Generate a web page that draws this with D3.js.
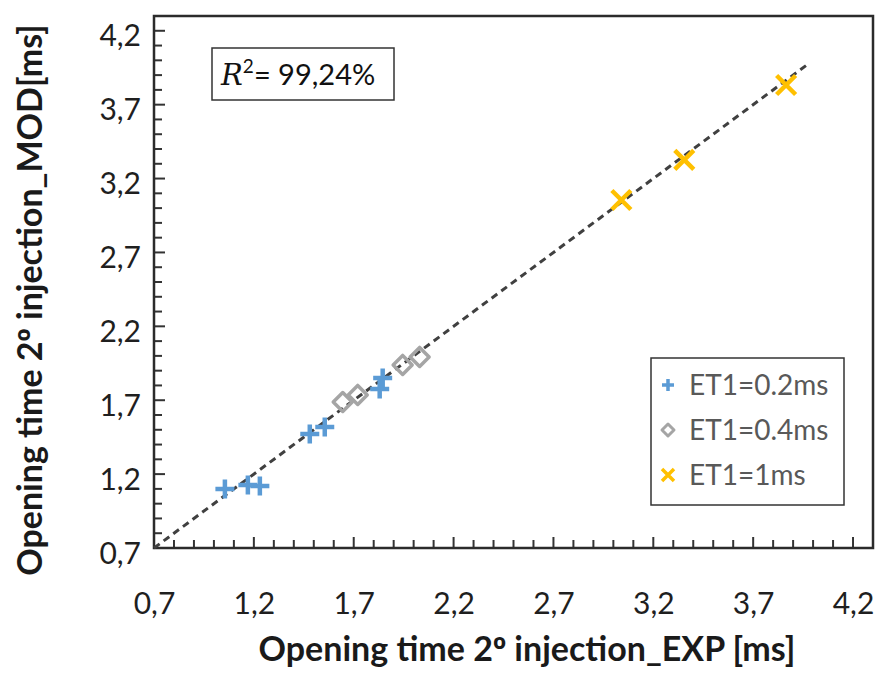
<!DOCTYPE html>
<html><head><meta charset="utf-8">
<script src="https://cdn.jsdelivr.net/npm/d3@7"></script>
<style>body{margin:0;background:#fff}svg{display:block}</style>
</head><body>
<script>
// Data
const s02x = [1.055, 1.17, 1.23, 1.48, 1.555, 1.83, 1.845];
const s02y = [1.100, 1.127, 1.12, 1.472, 1.519, 1.776, 1.851];
const s04x = [1.645, 1.72, 1.945, 2.03];
const s04y = [1.688, 1.736, 1.939, 1.993];
const s1x = [3.04, 3.355, 3.865];
const s1y = [3.055, 3.326, 3.833];
const seriesNames = ["ET1=0.2ms", "ET1=0.4ms", "ET1=1ms"];
const tickVals = [0.7, 1.2, 1.7, 2.2, 2.7, 3.2, 3.7, 4.2];
const fitLine = [0.7, 3.97];
const r2Text = "99,24%";
const xTitle = ["Opening time 2", "º", " injection_EXP [ms]"];
const yTitle = ["Opening time 2", "º", " injection_MOD[ms]"];

const W = 885, H = 675;
const m = {left:154, right:873, top:16, bottom:548};
const svg = d3.select("body").append("svg").attr("width", W).attr("height", H);
const x = d3.scaleLinear().domain([0.7, 4.3]).range([m.left, m.right]);
const y = d3.scaleLinear().domain([0.7, 4.3]).range([m.bottom, m.top]);
const fmt = d => d.toFixed(1).replace(".", ",");
const font = "Lato, 'Open Sans', sans-serif";

// minor ticks every 0.1 (inside)
const minor = d3.range(8, 43).map(i => i / 10).filter(v => v <= 4.3 + 1e-9);
const isMajor = v => tickVals.some(t => Math.abs(t - v) < 1e-6);
const g = svg.append("g");
minor.forEach(v => {
  const L = isMajor(v) ? 11 : 8;
  g.append("line").attr("x1", x(v)).attr("x2", x(v)).attr("y1", m.bottom).attr("y2", m.bottom - L)
    .attr("stroke", "#333").attr("stroke-width", 2);
  g.append("line").attr("y1", y(v)).attr("y2", y(v)).attr("x1", m.left).attr("x2", m.left + L)
    .attr("stroke", "#333").attr("stroke-width", 2);
});
// tick labels via axes (no tick lines)
const xAxis = d3.axisBottom(x).tickValues(tickVals).tickFormat(fmt).tickSize(0).tickPadding(45);
const yAxis = d3.axisLeft(y).tickValues(tickVals).tickFormat(fmt).tickSize(0).tickPadding(13);
const gx = svg.append("g").attr("transform", `translate(0,${m.bottom})`).call(xAxis);
const gy = svg.append("g").attr("transform", `translate(${m.left},0)`).call(yAxis);
[gx, gy].forEach(a => {
  a.select(".domain").remove();
  a.attr("font-size", 30).attr("font-family", font);
  a.selectAll("text").attr("font-family", font).attr("font-size", 30).attr("fill", "#1f1f1f");
});
gy.selectAll("text").attr("dy", "0.5em");

// frame
svg.append("rect").attr("x", m.left).attr("y", m.top).attr("width", m.right - m.left).attr("height", m.bottom - m.top)
  .attr("fill", "none").attr("stroke", "#2b2b2b").attr("stroke-width", 2.5);

// fit line
svg.append("line").attr("x1", x(fitLine[0])).attr("y1", y(fitLine[0])).attr("x2", x(fitLine[1])).attr("y2", y(fitLine[1]))
  .attr("stroke", "#404040").attr("stroke-width", 3).attr("stroke-dasharray", "7,5");

// markers
function plus(sel, cx, cy, s, col, sw) {
  sel.append("path").attr("d", `M${cx - s},${cy}H${cx + s}M${cx},${cy - s}V${cy + s}`)
    .attr("stroke", col).attr("stroke-width", sw).attr("fill", "none");
}
function diamond(sel, cx, cy, s, col, sw) {
  sel.append("path").attr("d", `M${cx},${cy - s}L${cx + s},${cy}L${cx},${cy + s}L${cx - s},${cy}Z`)
    .attr("stroke", col).attr("stroke-width", sw).attr("fill", "none").attr("stroke-linejoin", "round");
}
function cross(sel, cx, cy, s, col, sw) {
  sel.append("path").attr("d", `M${cx - s},${cy - s}L${cx + s},${cy + s}M${cx - s},${cy + s}L${cx + s},${cy - s}`)
    .attr("stroke", col).attr("stroke-width", sw).attr("fill", "none");
}
const mk = svg.append("g");
s04x.forEach((v, i) => diamond(mk, x(v), y(s04y[i]), 9.5, "#A5A5A5", 3.5));
s02x.forEach((v, i) => plus(mk, x(v), y(s02y[i]), 9.5, "#5B9BD5", 4.5));
s1x.forEach((v, i) => cross(mk, x(v), y(s1y[i]), 9.5, "#FFC000", 4.5));

// R2 box
const rb = svg.append("g");
rb.append("rect").attr("x", 212).attr("y", 48).attr("width", 182).attr("height", 52)
  .attr("fill", "#fff").attr("stroke", "#333").attr("stroke-width", 1.5);
const rt = rb.append("text").attr("x", 221).attr("y", 85).attr("font-size", 29).attr("fill", "#111");
rt.append("tspan").attr("font-family", "'DejaVu Serif', 'Liberation Serif', serif").attr("font-style", "italic").text("R");
rt.append("tspan").attr("font-family", font).attr("font-size", 19).attr("dy", -12).text("2");
rt.append("tspan").attr("font-family", font).attr("dy", 12).text("= " + r2Text);

// legend
const lg = svg.append("g");
lg.append("rect").attr("x", 651).attr("y", 358).attr("width", 193).attr("height", 147)
  .attr("fill", "#fff").attr("stroke", "#333").attr("stroke-width", 1.5);
const legY = [385, 430, 475];
plus(lg, 668, legY[0], 6, "#5B9BD5", 3.5);
diamond(lg, 668, legY[1], 6, "#A5A5A5", 3);
cross(lg, 668, legY[2], 6, "#FFC000", 3.5);
seriesNames.forEach((n, i) => lg.append("text").attr("x", 689).attr("y", legY[i]).attr("dy", "0.35em")
  .attr("font-family", font).attr("font-size", 28).attr("fill", "#595959").text(n));

// axis titles
function title(t, parts) {
  parts.forEach((p, i) => t.append("tspan").attr("font-family", i === 1 ? "'Noto Sans', sans-serif" : font).text(p));
}
const xt = svg.append("text").attr("x", 527).attr("y", 661).attr("text-anchor", "middle")
  .attr("font-family", font).attr("font-weight", "bold").attr("font-size", 34).attr("fill", "#1a1a1a");
title(xt, xTitle);
const yt = svg.append("text").attr("transform", `translate(42,300) rotate(-90)`).attr("text-anchor", "middle")
  .attr("font-family", font).attr("font-weight", "bold").attr("font-size", 34).attr("fill", "#1a1a1a");
title(yt, yTitle);
</script>
</body></html>
